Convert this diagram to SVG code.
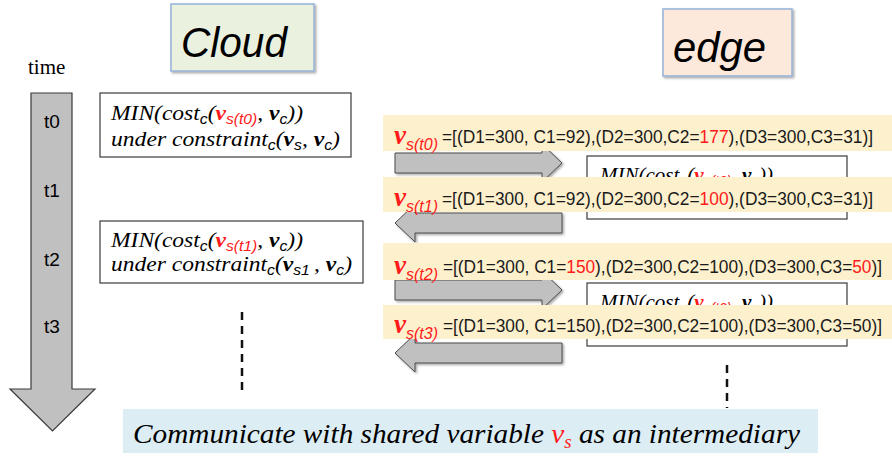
<svg xmlns="http://www.w3.org/2000/svg" width="892" height="457" viewBox="0 0 892 457">
<style>
.title{font-family:"Liberation Sans",Arial,sans-serif;font-style:italic;font-size:42px;fill:#000}
.time{font-family:"Liberation Serif","Times New Roman",serif;font-size:21px;fill:#000}
.tl{font-family:"Liberation Sans",Arial,sans-serif;font-size:19px;fill:#000;text-anchor:middle}
.box{fill:#fff;stroke:#3a3a3a;stroke-width:1.2}
.cm{font-family:"Liberation Serif","Times New Roman",serif;font-style:italic;font-size:21px;fill:#000}
.sub{font-family:"Liberation Sans",Arial,sans-serif;font-style:italic;font-size:14px}
.vb{font-weight:bold}
.red{fill:#ff1a1a}
.band{fill:#fdf0cd}
.bt{font-family:"Liberation Sans",Arial,sans-serif;font-size:18px;fill:#1a1a1a}
.vl{font-family:"Liberation Serif","Times New Roman",serif;font-style:italic;font-weight:bold;font-size:27px;fill:#ff1a1a}
.vs{font-family:"Liberation Sans",Arial,sans-serif;font-style:italic;font-size:16px;fill:#ff1a1a}
.arr{fill:#c0c0c0;stroke:#4a4a4a;stroke-width:1}
.dash{stroke:#111;stroke-width:2.5;stroke-dasharray:8 6;fill:none}
.bn{font-family:"Liberation Serif","Times New Roman",serif;font-style:italic;font-size:28px;fill:#000}
</style>
<defs>
<filter id="sh" x="-10%" y="-10%" width="130%" height="140%">
<feDropShadow dx="1.5" dy="1.5" stdDeviation="1" flood-color="#000" flood-opacity="0.35"/>
</filter>
</defs>
<rect width="892" height="457" fill="#fff"/>

<g id="cloud-title">
<rect x="171" y="4" width="143" height="67" fill="#ebf1df" stroke="#95b3d7" stroke-width="1.5" filter="url(#sh)"/>
<text class="title" x="181" y="57" textLength="106" lengthAdjust="spacingAndGlyphs">Cloud</text>
</g>

<g id="edge-title">
<rect x="663" y="9" width="129" height="67" fill="#fde9dc" stroke="#95b3d7" stroke-width="1.5" filter="url(#sh)"/>
<text class="title" x="673" y="62" textLength="93" lengthAdjust="spacingAndGlyphs">edge</text>
</g>

<g id="time-axis">
<text class="time" x="28" y="74">time</text>
<path d="M31,93 H72 V389 H95 L52.5,431 L10,389 H31 Z" fill="#c0c0c0" stroke="#3a3a3a" stroke-width="1.2"/>
<text class="tl" x="52" y="128">t0</text>
<text class="tl" x="52" y="197">t1</text>
<text class="tl" x="52" y="266">t2</text>
<text class="tl" x="52" y="333">t3</text>
</g>

<g id="cloud-min-1">
<rect class="box" x="100" y="93" width="251" height="64"/>
<text class="cm" x="111" y="120" textLength="192" lengthAdjust="spacingAndGlyphs">MIN(cost<tspan class="sub" dy="4">c</tspan><tspan dy="-4">(</tspan><tspan class="vb red">v</tspan><tspan class="sub red" dy="4">s(t0)</tspan><tspan dy="-4">, </tspan><tspan class="vb">v</tspan><tspan class="sub" dy="4">c</tspan><tspan dy="-4">))</tspan></text>
<text class="cm" x="111" y="146" textLength="229" lengthAdjust="spacingAndGlyphs">under constraint<tspan class="sub" dy="4">c</tspan><tspan dy="-4">(</tspan><tspan class="vb">v</tspan><tspan class="sub" dy="4">s</tspan><tspan dy="-4">, </tspan><tspan class="vb">v</tspan><tspan class="sub" dy="4">c</tspan><tspan dy="-4">)</tspan></text>
</g>

<g id="cloud-min-2">
<rect class="box" x="100" y="221" width="263" height="62"/>
<text class="cm" x="111" y="247" textLength="192" lengthAdjust="spacingAndGlyphs">MIN(cost<tspan class="sub" dy="4">c</tspan><tspan dy="-4">(</tspan><tspan class="vb red">v</tspan><tspan class="sub red" dy="4">s(t1)</tspan><tspan dy="-4">, </tspan><tspan class="vb">v</tspan><tspan class="sub" dy="4">c</tspan><tspan dy="-4">))</tspan></text>
<text class="cm" x="111" y="271" textLength="241" lengthAdjust="spacingAndGlyphs">under constraint<tspan class="sub" dy="4">c</tspan><tspan dy="-4">(</tspan><tspan class="vb">v</tspan><tspan class="sub" dy="4">s1 </tspan><tspan dy="-4">, </tspan><tspan class="vb">v</tspan><tspan class="sub" dy="4">c</tspan><tspan dy="-4">)</tspan></text>
</g>

<g id="edge-min-1">
<rect class="box" x="587" y="156" width="260" height="63"/>
<text class="cm" x="600" y="182">MIN(cost<tspan class="sub" dy="4">e</tspan><tspan dy="-4">(</tspan><tspan class="vb red">v</tspan><tspan class="sub red" dy="4">s(t0)</tspan><tspan dy="-4">, </tspan><tspan class="vb">v</tspan><tspan class="sub" dy="4">e</tspan><tspan dy="-4">))</tspan></text>
</g>

<g id="edge-min-2">
<rect class="box" x="587" y="283" width="260" height="63"/>
<text class="cm" x="600" y="309">MIN(cost<tspan class="sub" dy="4">e</tspan><tspan dy="-4">(</tspan><tspan class="vb red">v</tspan><tspan class="sub red" dy="4">s(t2)</tspan><tspan dy="-4">, </tspan><tspan class="vb">v</tspan><tspan class="sub" dy="4">e</tspan><tspan dy="-4">))</tspan></text>
</g>

<g id="connectors">
<path class="arr" filter="url(#sh)" d="M395,153 H542 V144 L562,163 L542,182 V173 H395 Z"/>
<path class="arr" filter="url(#sh)" d="M562,213 H415 V204 L395,223 L415,242 V233 H562 Z"/>
<path class="arr" filter="url(#sh)" d="M395,280 H542 V271 L562,290 L542,309 V300 H395 Z"/>
<path class="arr" filter="url(#sh)" d="M562,343 H415 V334 L395,353 L415,372 V363 H562 Z"/>
<line class="dash" x1="242" y1="312" x2="242" y2="390"/>
<line class="dash" x1="727" y1="365" x2="727" y2="408"/>
</g>

<g id="vs-t0">
<rect class="band" x="383" y="115" width="509" height="36"/>
<text class="vl" x="394" y="144">v</text><text class="vs" x="406" y="150">s(t0)</text>
<text class="bt" x="442" y="143" textLength="431" lengthAdjust="spacingAndGlyphs">=[(D1=300, C1=92),(D2=300,C2=<tspan class="red">177</tspan>),(D3=300,C3=31)]</text>
</g>

<g id="vs-t1">
<rect class="band" x="383" y="177" width="509" height="35"/>
<text class="vl" x="394" y="206">v</text><text class="vs" x="406" y="212">s(t1)</text>
<text class="bt" x="442" y="205" textLength="431" lengthAdjust="spacingAndGlyphs">=[(D1=300, C1=92),(D2=300,C2=<tspan class="red">100</tspan>),(D3=300,C3=31)]</text>
</g>

<g id="vs-t2">
<rect class="band" x="383" y="243" width="509" height="37"/>
<text class="vl" x="394" y="274">v</text><text class="vs" x="406" y="280">s(t2)</text>
<text class="bt" x="443" y="273" textLength="439" lengthAdjust="spacingAndGlyphs">=[(D1=300, C1=<tspan class="red">150</tspan>),(D2=300,C2=100),(D3=300,C3=<tspan class="red">50</tspan>)]</text>
</g>

<g id="vs-t3">
<rect class="band" x="383" y="305" width="509" height="34"/>
<text class="vl" x="394" y="333">v</text><text class="vs" x="406" y="339">s(t3)</text>
<text class="bt" x="443" y="332" textLength="439" lengthAdjust="spacingAndGlyphs">=[(D1=300, C1=150),(D2=300,C2=100),(D3=300,C3=50)]</text>
</g>

<g id="banner">
<rect x="123" y="409" width="695" height="44" fill="#dcedf4"/>
<text class="bn" x="133" y="443" textLength="667" lengthAdjust="spacingAndGlyphs">Communicate with shared variable <tspan class="red">v</tspan><tspan class="red" style="font-size:18px" dy="5">s</tspan><tspan dy="-5"> as an intermediary</tspan></text>
</g>
</svg>
